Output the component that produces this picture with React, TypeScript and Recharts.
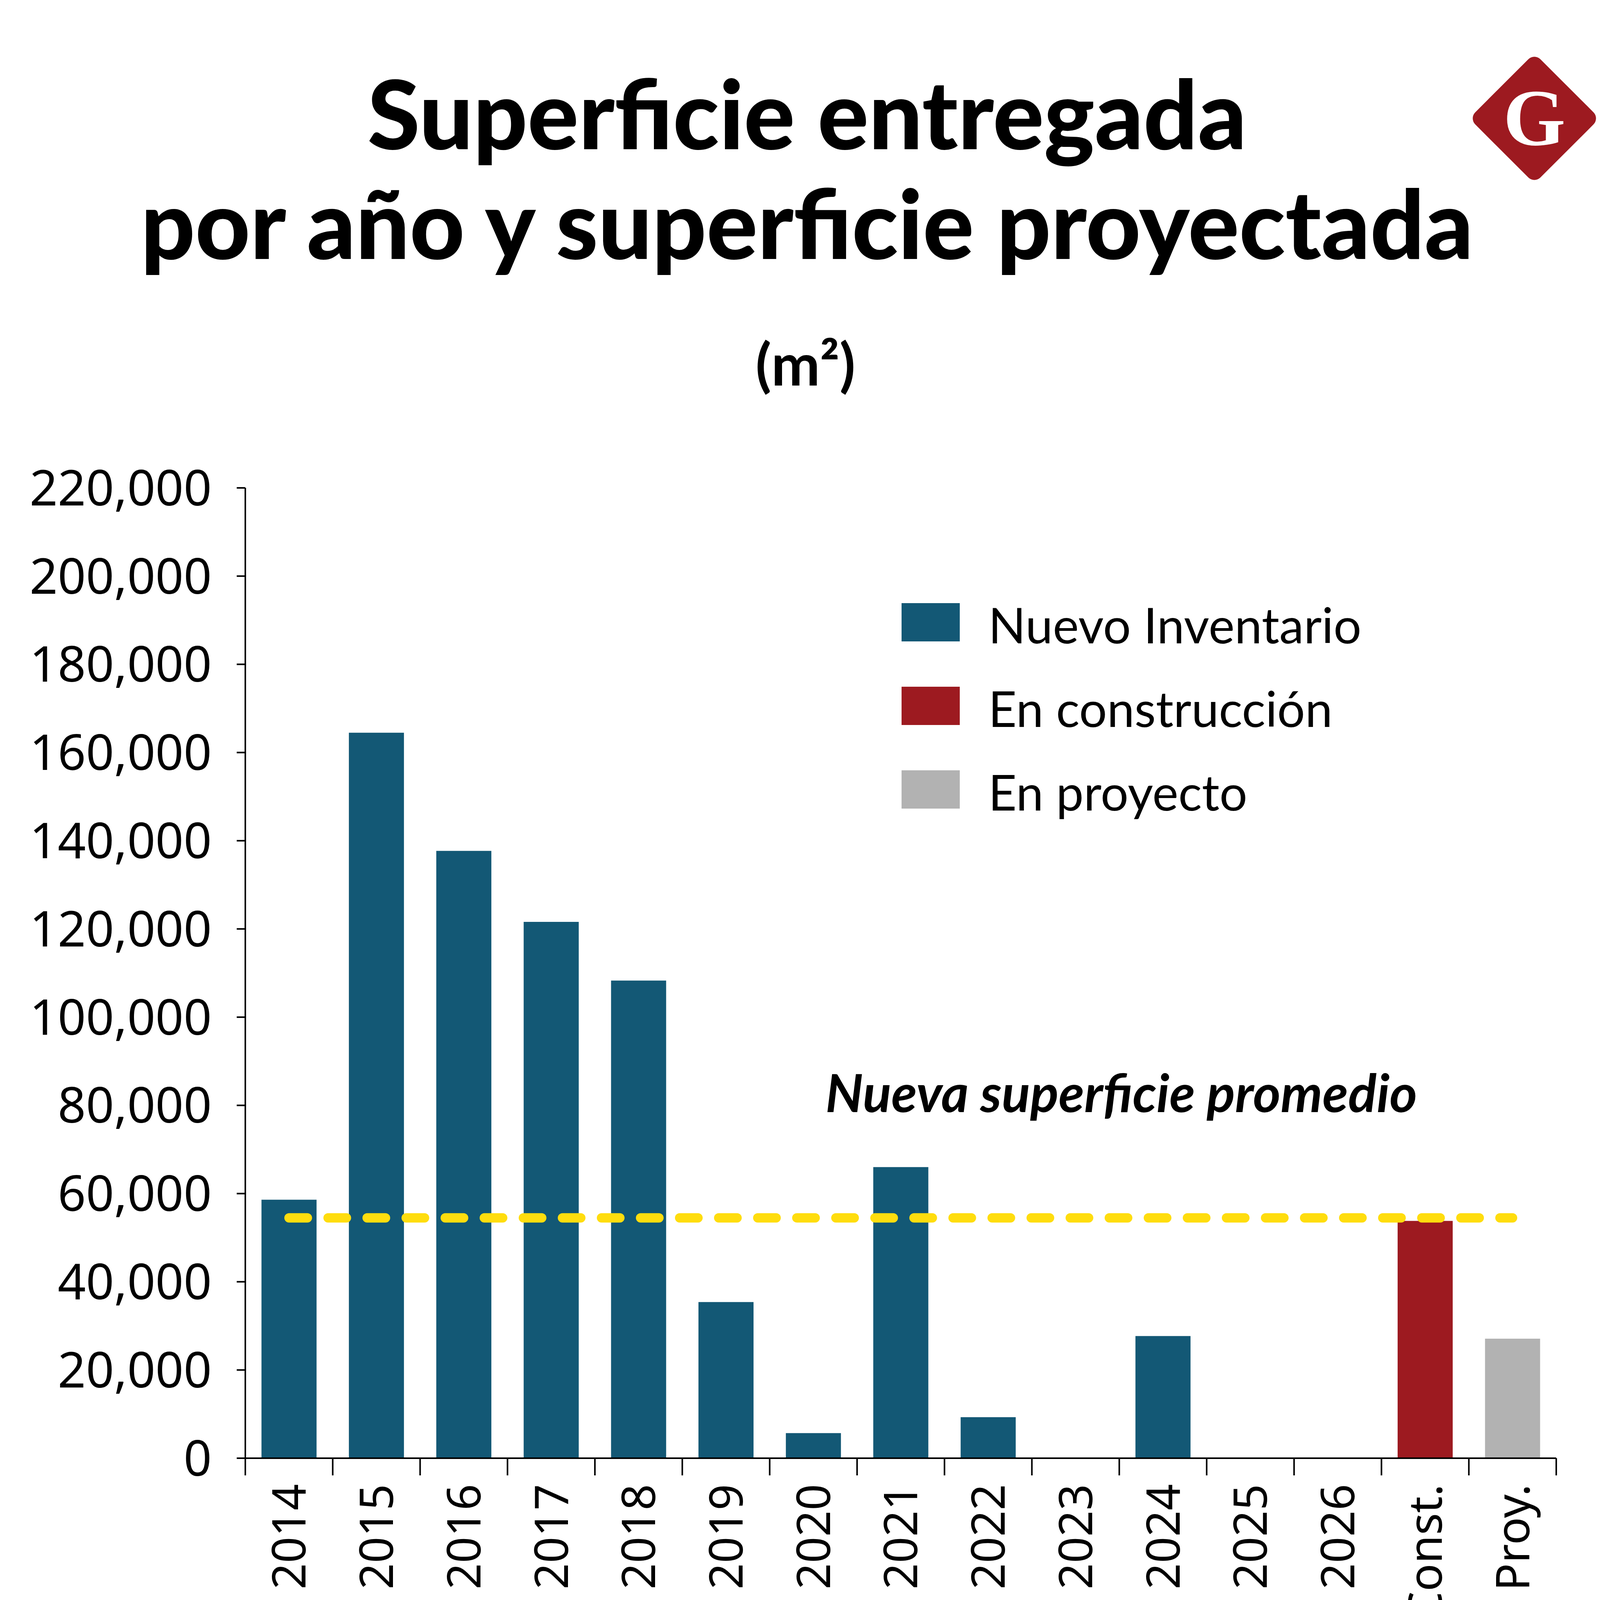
import React from 'react';
import { ComposedChart, Bar, XAxis, YAxis, Legend, ReferenceLine } from 'recharts';

// ---------- data ----------
const categories = ['2014', '2015', '2016', '2017', '2018', '2019', '2020', '2021', '2022', '2023', '2024', '2025', '2026', 'En Const.', 'En Proy.'];
const nuevoInventario = [58600, 164500, 137700, 121600, 108300, 35400, 5700, 66000, 9300, 0, 27700, 0, 0, null, null];
const enConstruccion = [null, null, null, null, null, null, null, null, null, null, null, null, null, 53800, null];
const enProyecto = [null, null, null, null, null, null, null, null, null, null, null, null, null, null, 27100];
const promedio = 54500;
const yTicks = [0, 20000, 40000, 60000, 80000, 100000, 120000, 140000, 160000, 180000, 200000, 220000];
const seriesNames = ['Nuevo Inventario', 'En construcción', 'En proyecto'];

const data = categories.map((c, i) => ({
  cat: c,
  nuevo: nuevoInventario[i],
  construccion: enConstruccion[i],
  proyecto: enProyecto[i],
}));

// ---------- layout ----------
const W = 4150;
const H = 4998;
const PLOT_LEFT = 628;
const PLOT_RIGHT = 3984;
const PLOT_TOP = 1249;
const PLOT_BOTTOM = 3733;
const Y_AXIS_W = 600;
const X_AXIS_H = 600;
const PLOT_W = PLOT_RIGHT - PLOT_LEFT;

const C_BLUE = '#135875';
const C_RED = '#9D1A20';
const C_GRAY = '#B2B2B2';
const C_YELLOW = '#FFDD0E';

const XTick = (props: any) => {
  const { x, y, payload, index, visibleTicksCount } = props;
  const n = visibleTicksCount || categories.length;
  const w = typeof props.width === 'number' && props.width > 0 ? props.width : PLOT_W;
  const half = w / n / 2;
  return (
    <g>
      <line x1={x - half} x2={x - half} y1={y} y2={y + 44} stroke="#000" strokeWidth={4} />
      {index === n - 1 && (
        <line x1={x + half} x2={x + half} y1={y} y2={y + 44} stroke="#000" strokeWidth={4} />
      )}
      <text
        transform={`translate(${x},${y + 66}) rotate(-90)`}
        textAnchor="end"
        dy="0.36em"
        fontFamily="'Noto Sans'"
        fontSize={118}
        fill="#000"
      >
        {payload.value}
      </text>
    </g>
  );
};

const renderLegend = (props: any) => {
  const payload = [...(props.payload || [])].sort(
    (a: any, b: any) => seriesNames.indexOf(a.value) - seriesNames.indexOf(b.value)
  );
  return (
    <svg width={1500} height={580} style={{ display: 'block', overflow: 'visible' }}>
      {payload.map((e: any, i: number) => (
        <g key={e.value}>
          <rect x={0} y={i * 214} width={149} height={98} fill={e.color} />
          <text x={222} y={i * 214 + 103} fontFamily="Lato" fontSize={126} fill="#000">
            {e.value}
          </text>
        </g>
      ))}
    </svg>
  );
};

const Logo = () => {
  const cx = 3928;
  const cy = 303;
  const s = 236;
  return (
    <g>
      <rect
        x={cx - s / 2}
        y={cy - s / 2}
        width={s}
        height={s}
        rx={22}
        ry={22}
        fill={C_RED}
        transform={`rotate(45 ${cx} ${cy})`}
      />
      <text
        x={cx}
        y={cy + 68}
        textAnchor="middle"
        fontFamily="'Liberation Serif', 'DejaVu Serif', serif"
        fontWeight={700}
        fontSize={205}
        fill="#fff"
      >
        G
      </text>
    </g>
  );
};

export default function App() {
  return (
    <div style={{ position: 'relative', width: W, height: H, margin: -8, background: '#fff', overflow: 'hidden' }}>
      <div style={{ position: 'absolute', left: 0, top: 0 }}>
        <ComposedChart
          width={W}
          height={H}
          data={data}
          margin={{ top: PLOT_TOP, right: W - PLOT_RIGHT, bottom: H - PLOT_BOTTOM - X_AXIS_H, left: PLOT_LEFT - Y_AXIS_W }}
          barCategoryGap="18.5%"
        >
          <XAxis
            dataKey="cat"
            type="category"
            height={X_AXIS_H}
            interval={0}
            tickLine={false}
            tickSize={0}
            tickMargin={0}
            axisLine={{ stroke: '#000', strokeWidth: 4 }}
            tick={<XTick />}
          />
          <YAxis
            type="number"
            width={Y_AXIS_W}
            domain={[0, 220000]}
            ticks={yTicks}
            interval={0}
            tickSize={22}
            tickMargin={64}
            tickLine={{ stroke: '#000', strokeWidth: 4 }}
            axisLine={{ stroke: '#000', strokeWidth: 4 }}
            tick={{ fontSize: 126, fill: '#000', fontFamily: "'Noto Sans'" }}
            tickFormatter={(v: number) => v.toLocaleString('en-US')}
          />
          <Legend
            layout="vertical"
            align="center"
            verticalAlign="middle"
            content={renderLegend}
            wrapperStyle={{ position: 'absolute', left: 2308, top: 1544, width: 1500, height: 580 }}
          />
          <Bar dataKey="nuevo" name={seriesNames[0]} stackId="s" fill={C_BLUE} isAnimationActive={false} />
          <Bar dataKey="construccion" name={seriesNames[1]} stackId="s" fill={C_RED} isAnimationActive={false} />
          <Bar dataKey="proyecto" name={seriesNames[2]} stackId="s" fill={C_GRAY} isAnimationActive={false} />
          <ReferenceLine
            segment={[
              { x: categories[0], y: promedio },
              { x: categories[categories.length - 1], y: promedio },
            ]}
            stroke={C_YELLOW}
            strokeWidth={24}
            strokeDasharray="47 53"
            strokeLinecap="round"
          />
        </ComposedChart>
      </div>
      <svg width={W} height={H} style={{ position: 'absolute', left: 0, top: 0, pointerEvents: 'none' }}>
        <text x={2066} y={382} textAnchor="middle" fontFamily="Lato" fontWeight={900} fontSize={244} fill="#000">
          Superficie entregada
        </text>
        <text x={2066} y={663} textAnchor="middle" fontFamily="Lato" fontWeight={900} fontSize={244} fill="#000">
          por año y superficie proyectada
        </text>
        <text x={2062} y={987} textAnchor="middle" fontFamily="Lato" fontWeight={700} fontSize={149} fill="#000">
          (m²)
        </text>
        <Logo />
        <text x={2113} y={2847} fontFamily="Lato" fontStyle="italic" fontWeight={700} fontSize={135} fill="#000">
          Nueva superficie promedio
        </text>
        <line x1={0} x2={W} y1={4480} y2={4480} stroke="#8a8a8a" strokeWidth={3} />
        <text x={2050} y={4760} textAnchor="middle" fontFamily="'Noto Sans'" fontSize={101} fill="#111">
          FUENTE: Reporte Marketbeat Lima Oficinas T2 2026 de Cushman &amp; Wakefield.
        </text>
      </svg>
    </div>
  );
}
